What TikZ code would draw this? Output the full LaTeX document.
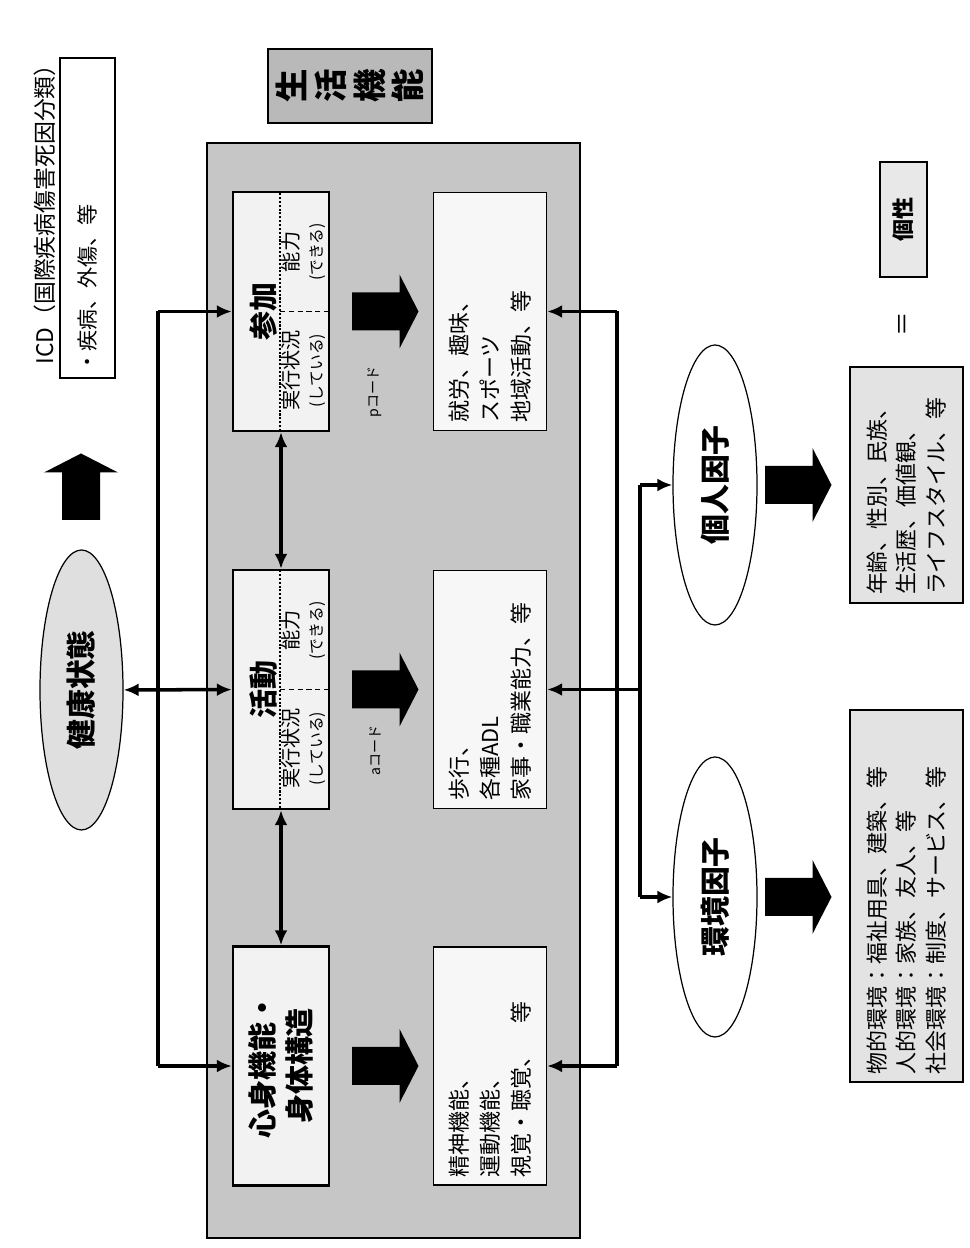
\documentclass[tikz,border=0pt]{standalone}
\usepackage{fontspec}
\setmainfont{Noto Sans CJK JP}
\usetikzlibrary{positioning, shapes.geometric, arrows.meta}

\tikzset{
    funcbox/.style={draw, line width=1.4pt, fill=gray!10, minimum width=4.78cm, minimum height=1.92cm, inner sep=0pt},
    boxtitle/.style={align=center, font=\fontsize{16.5}{21}\selectfont\bfseries},
    subtext/.style={align=center, inner sep=0pt, font=\fontsize{11.5}{14}\selectfont},
    exbox/.style={draw, line width=0.8pt, fill=gray!6, minimum width=4.76cm, minimum height=2.26cm,
        inner xsep=0.16cm, text width=4.44cm, align=left, font=\fontsize{12.5}{17.5}\selectfont},
    resbox/.style={draw, line width=0.8pt, fill=gray!22, minimum height=2.26cm,
        inner xsep=0.16cm, align=left, font=\fontsize{12.5}{17}\selectfont},
    factor/.style={ellipse, draw, line width=0.7pt, minimum width=5.6cm, minimum height=1.68cm,
        font=\fontsize{17}{19}\selectfont\bfseries},
    codelabel/.style={font=\fontsize{8}{9}\selectfont},
    link/.style={line width=2pt},
    oneway/.style={link, -{Latex[length=3mm,width=2.6mm]}},
    bothway/.style={link, {Latex[length=3mm,width=2.6mm]}-{Latex[length=3mm,width=2.6mm]}},
    bigarrow/.pic={
        \fill (0,-0.38) -- (0.95,-0.38) -- (0.95,-0.74) -- (1.33,0) -- (0.95,0.74) -- (0.95,0.38) -- (0,0.38) -- cycle;
    }
}

\begin{document}
\begin{tikzpicture}[rotate=90, transform shape]
    \useasboundingbox (0,0) rectangle (24.96,-19.4);

    % frame of functioning
    \fill[gray!45, draw=black, line width=1.6pt] (0.2,-4.14) rectangle (22.1,-11.6);
    \node[draw, line width=0.8pt, fill=gray!55, minimum width=1.48cm, minimum height=3.28cm, align=center,
        font=\fontsize{19}{22}\selectfont\bfseries] (lifefunc) at (23.24,-7.0) {生\\活\\機\\能};

    % health condition
    \node[factor, fill=gray!25, minimum height=1.66cm] (health) at (11.16,-1.63) {健康状態};
    \pic at (14.56,-1.62) {bigarrow};
    \node[font=\fontsize{13}{15}\selectfont] (icdname) at (20.78,-0.9) {ICD（国際疾病傷害死因分類）};
    \node[draw, line width=0.8pt, fill=white, minimum width=6.4cm, minimum height=1.1cm, inner xsep=0.1cm,
        text width=6.2cm, align=left, font=\fontsize{12}{14}\selectfont] (icd) at (20.6,-1.75) {・疾病、外傷、等};

    % three levels
    \node[funcbox] (body) at (3.64,-5.62) {};
    \node[boxtitle] (bodytitle) at (3.64,-5.62) {心身機能・\\身体構造};

    \node[funcbox] (act) at (11.17,-5.62) {};
    \node[boxtitle] (acttitle) at (11.17,-5.27) {活動};
    \node[subtext] (actdo) at (9.99,-6.07) {実行状況\\{\fontsize{9}{10}\selectfont (している)}};
    \node[subtext] (actcan) at (12.35,-6.07) {能力\\{\fontsize{9}{10}\selectfont (できる)}};
    \draw[densely dotted, line width=1.2pt] (8.8,-5.6) -- (13.55,-5.6);
    \draw[densely dashed, line width=0.8pt] (11.17,-5.6) -- (11.17,-6.58);

    \node[funcbox] (part) at (18.73,-5.62) {};
    \node[boxtitle] (parttitle) at (18.73,-5.27) {参加};
    \node[subtext] (partdo) at (17.55,-6.07) {実行状況\\{\fontsize{9}{10}\selectfont (している)}};
    \node[subtext] (partcan) at (19.92,-6.07) {能力\\{\fontsize{9}{10}\selectfont (できる)}};
    \draw[densely dotted, line width=1.2pt] (16.34,-5.6) -- (21.12,-5.6);
    \draw[densely dashed, line width=0.8pt] (18.73,-5.6) -- (18.73,-6.58);

    % codes and examples
    \pic[rotate=-90] at (3.64,-7.04) {bigarrow};
    \pic[rotate=-90] at (11.17,-7.04) {bigarrow};
    \pic[rotate=-90] at (18.73,-7.04) {bigarrow};
    \node[codelabel] (acode) at (9.96,-7.5) {aコード};
    \node[codelabel] (pcode) at (17.12,-7.5) {pコード};

    \node[exbox] (bodyex) at (3.64,-9.8) {精神機能、\\運動機能、\\視覚・聴覚、　等};
    \node[exbox] (actex) at (11.17,-9.8) {歩行、\\各種ADL\\家事・職業能力、等};
    \node[exbox] (partex) at (18.73,-9.8) {就労、趣味、\\スポーツ\\地域活動、等};

    % links from health condition
    \coordinate (busS) at (3.64,-3.16);
    \coordinate (busP) at (18.73,-3.16);
    \draw[link] (busS) -- (busP);
    \draw[bothway] (health) -- (act);
    \draw[oneway] (busS) -- (body);
    \draw[oneway] (busP) -- (part);
    \draw[bothway] (body) -- (act);
    \draw[bothway] (act) -- (part);

    % contextual factors
    \node[factor, fill=white] (env) at (7.02,-14.3) {環境因子};
    \node[factor, fill=white] (pers) at (15.26,-14.3) {個人因子};

    \coordinate (rbS) at (3.64,-12.34);
    \coordinate (rbP) at (18.73,-12.34);
    \coordinate (barA) at (11.17,-12.8);
    \coordinate (barE) at (7.02,-12.8);
    \coordinate (barP) at (15.26,-12.8);
    \draw[link] (rbS) -- (rbP);
    \draw[oneway] (rbS) -- (bodyex);
    \draw[oneway] (rbP) -- (partex);
    \draw[oneway] (barA) -- (actex);
    \draw[link] (barE) -- (barP);
    \draw[oneway] (barE) -- (env);
    \draw[oneway] (barP) -- (pers);

    \pic[rotate=-90] at (7.02,-15.3) {bigarrow};
    \pic[rotate=-90] at (15.26,-15.3) {bigarrow};

    \node[resbox, minimum width=7.44cm, text width=7.12cm] (envres) at (7.04,-18.13)
        {物的環境：福祉用具、建築、等\\人的環境：家族、友人、等\\社会環境：制度、サービス、等};
    \node[resbox, minimum width=4.72cm, text width=4.4cm] (persres) at (15.26,-18.13)
        {年齢、性別、民族、\\生活歴、価値観、\\ライフスタイル、等};

    \node[font=\fontsize{14}{16}\selectfont] (equal) at (18.48,-18.1) {＝};
    \node[draw, line width=0.8pt, fill=gray!18, minimum width=2.3cm, minimum height=0.94cm,
        font=\fontsize{12.5}{14}\selectfont\bfseries] (indiv) at (20.57,-18.07) {個性};
\end{tikzpicture}
\end{document}
